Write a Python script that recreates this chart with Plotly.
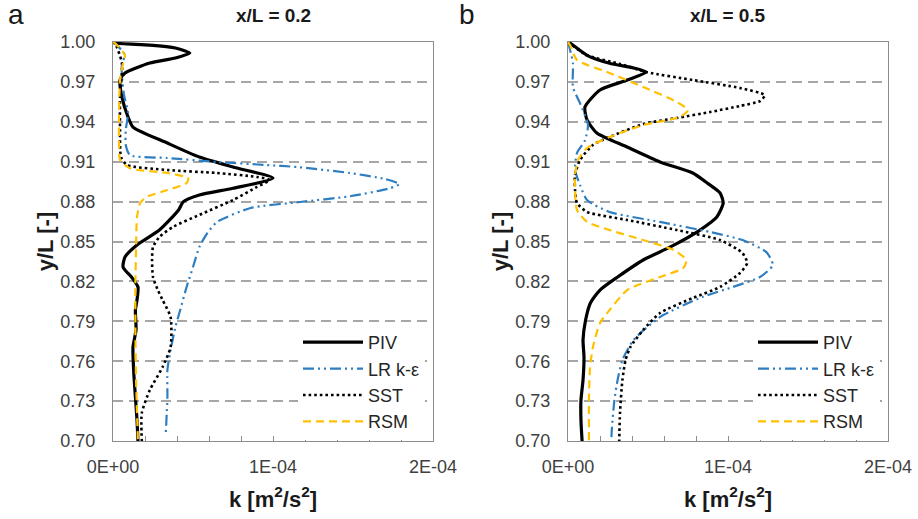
import plotly.graph_objects as go

# ---------------- data (k in m2/s2, y/L) ----------------
series_names = ["PIV", "LR k-ε", "SST", "RSM"]

# x/L = 0.2
a_piv_y = [1.000, 0.9992, 0.9977, 0.9955, 0.9917, 0.988, 0.9842, 0.9767, 0.9714, 0.9586, 0.9436, 0.936, 0.924, 0.9135, 0.906, 0.8977, 0.890, 0.885, 0.880, 0.8737, 0.8586, 0.8474, 0.8383, 0.8308, 0.8226, 0.8158, 0.806, 0.7985, 0.7835, 0.7707, 0.7511, 0.7331, 0.7158, 0.700]
a_piv_k = [0.0, 1.2e-6, 2.3e-5, 3.9e-5, 4.8e-5, 3.9e-5, 2.3e-5, 7.5e-6, 4.4e-6, 5.6e-6, 9.4e-6, 1.25e-5, 3.4e-5, 5.4e-5, 7.5e-5, 1.0e-4, 7.5e-5, 5.4e-5, 4.4e-5, 4.1e-5, 2.9e-5, 1.5e-5, 7.5e-6, 6.3e-6, 1.2e-5, 1.56e-5, 1.5e-5, 1.4e-5, 1.44e-5, 1.25e-5, 1.3e-5, 1.4e-5, 1.5e-5, 1.56e-5]

a_lr_y = [1.000, 0.9992, 0.990, 0.984, 0.974, 0.960, 0.9466, 0.934, 0.9226, 0.915, 0.9128, 0.9098, 0.9075, 0.906, 0.9015, 0.897, 0.8932, 0.890, 0.884, 0.8797, 0.8752, 0.8647, 0.8564, 0.8459, 0.8308, 0.8158, 0.7985, 0.7857, 0.7684, 0.7534, 0.7331, 0.706]
a_lr_k = [0.0, 1.2e-6, 7.5e-6, 5.6e-6, 5.6e-6, 6.9e-6, 9.4e-6, 8.0e-6, 8.0e-6, 1.06e-5, 3.4e-5, 6.5e-5, 9.6e-5, 1.15e-4, 1.48e-4, 1.7e-4, 1.79e-4, 1.73e-4, 1.48e-4, 1.17e-4, 8.6e-5, 6.5e-5, 5.9e-5, 5.4e-5, 5.0e-5, 4.6e-5, 4.2e-5, 3.9e-5, 3.6e-5, 3.4e-5, 3.4e-5, 3.3e-5]

a_sst_y = [1.000, 0.9992, 0.984, 0.9586, 0.9338, 0.9135, 0.9075, 0.9038, 0.9015, 0.8985, 0.8962, 0.891, 0.8812, 0.870, 0.861, 0.8534, 0.8459, 0.836, 0.8233, 0.8135, 0.806, 0.7932, 0.7707, 0.7556, 0.7383, 0.721, 0.700]
a_sst_k = [0.0, 1.2e-6, 5.6e-6, 4.4e-6, 4.4e-6, 5.0e-6, 8.8e-6, 3.4e-5, 6.5e-5, 9.0e-5, 9.8e-5, 9.0e-5, 7.5e-5, 5.4e-5, 3.75e-5, 2.9e-5, 2.5e-5, 2.44e-5, 2.5e-5, 2.8e-5, 3.1e-5, 3.6e-5, 3.6e-5, 3.1e-5, 2.3e-5, 1.8e-5, 1.8e-5]

a_rsm_y = [1.000, 0.9992, 0.990, 0.984, 0.9714, 0.9466, 0.921, 0.9113, 0.905, 0.9015, 0.8977, 0.894, 0.8887, 0.8835, 0.879, 0.8684, 0.8436, 0.8188, 0.7835, 0.7459, 0.700]
a_rsm_k = [0.0, 1.2e-6, 7.5e-6, 6.3e-6, 4.4e-6, 3.8e-6, 3.8e-6, 4.4e-6, 1.06e-5, 3.4e-5, 4.7e-5, 4.6e-5, 3.4e-5, 2.1e-5, 1.7e-5, 1.5e-5, 1.44e-5, 1.4e-5, 1.4e-5, 1.44e-5, 1.56e-5]

# x/L = 0.5
b_piv_y = [1.000, 0.9992, 0.990, 0.984, 0.9805, 0.9774, 0.9714, 0.9639, 0.9511, 0.9414, 0.9316, 0.921, 0.9098, 0.9015, 0.894, 0.8865, 0.879, 0.8684, 0.8586, 0.8459, 0.8361, 0.8233, 0.8135, 0.8038, 0.791, 0.776, 0.7632, 0.7459, 0.7308, 0.7158, 0.700]
b_piv_k = [0.0, 1.3e-6, 1.19e-5, 2.6e-5, 4.1e-5, 4.9e-5, 3.7e-5, 2.0e-5, 1.06e-5, 1.19e-5, 1.8e-5, 3.7e-5, 5.75e-5, 7.8e-5, 8.7e-5, 9.5e-5, 9.7e-5, 9.3e-5, 8.25e-5, 6.4e-5, 4.7e-5, 3.1e-5, 2.0e-5, 1.4e-5, 1.1e-5, 9.4e-6, 1.0e-5, 9.4e-6, 8.1e-6, 8.1e-6, 8.8e-6]

b_lr_y = [1.000, 0.994, 0.984, 0.966, 0.954, 0.9376, 0.926, 0.9165, 0.9038, 0.8925, 0.8812, 0.8722, 0.8647, 0.8571, 0.8511, 0.842, 0.8323, 0.8233, 0.8158, 0.8083, 0.7932, 0.776, 0.7609, 0.7459, 0.7308, 0.7105, 0.700]
b_lr_k = [0.0, 1.3e-6, 3.1e-6, 3.1e-6, 7.5e-6, 1.25e-5, 1.06e-5, 5.6e-6, 4.4e-6, 7.5e-6, 1.19e-5, 2.6e-5, 5.75e-5, 8.9e-5, 1.09e-4, 1.24e-4, 1.28e-4, 1.2e-4, 1.03e-4, 8.4e-5, 5.75e-5, 4.1e-5, 3.4e-5, 3.1e-5, 2.9e-5, 2.75e-5, 2.7e-5]

b_sst_y = [1.000, 0.990, 0.9835, 0.9774, 0.9714, 0.9654, 0.960, 0.9556, 0.9519, 0.9474, 0.9429, 0.9383, 0.9286, 0.9226, 0.9113, 0.900, 0.8887, 0.879, 0.8722, 0.8662, 0.8586, 0.8511, 0.8414, 0.8338, 0.8263, 0.8158, 0.8075, 0.7962, 0.7835, 0.7707, 0.7609, 0.7459, 0.721, 0.700]
b_sst_k = [0.0, 1.19e-5, 3.25e-5, 4.9e-5, 7.8e-5, 1.075e-4, 1.23e-4, 1.2e-4, 1.075e-4, 8.9e-5, 6.8e-5, 4.7e-5, 2.6e-5, 1.56e-5, 7.5e-6, 4.4e-6, 4.4e-6, 5.6e-6, 1.19e-5, 3.7e-5, 6.8e-5, 9.5e-5, 1.09e-4, 1.12e-4, 1.075e-4, 9.5e-5, 7.8e-5, 5.75e-5, 4.7e-5, 3.9e-5, 3.6e-5, 3.4e-5, 3.25e-5, 3.2e-5]

b_rsm_y = [1.000, 0.9977, 0.9865, 0.9767, 0.9662, 0.9549, 0.9489, 0.9436, 0.9376, 0.9286, 0.9203, 0.9113, 0.900, 0.8887, 0.8737, 0.8647, 0.8586, 0.8511, 0.8436, 0.8361, 0.830, 0.8233, 0.8135, 0.7985, 0.7887, 0.7707, 0.7556, 0.7331, 0.700]
b_rsm_k = [0.0, 1.3e-6, 5.6e-6, 2.6e-5, 4.7e-5, 6.8e-5, 7.5e-5, 7.0e-5, 4.7e-5, 2.6e-5, 1.19e-5, 6.3e-6, 4.4e-6, 4.4e-6, 5.6e-6, 1.19e-5, 2.6e-5, 4.7e-5, 6.6e-5, 7.4e-5, 7.2e-5, 5.75e-5, 3.7e-5, 2.6e-5, 2.0e-5, 1.56e-5, 1.38e-5, 1.31e-5, 1.31e-5]

y_ticks = [0.70, 0.73, 0.76, 0.79, 0.82, 0.85, 0.88, 0.91, 0.94, 0.97, 1.00]
x_tickvals = [0.0, 1e-4, 2e-4]
x_ticktext = ["0E+00", "1E-04", "2E-04"]
panel_titles = ["x/L = 0.2", "x/L = 0.5"]
panel_letters = ["a", "b"]

# ---------------- styles ----------------
FONT = "Liberation Sans, Arial, sans-serif"
styles = [
    dict(color="black", width=3.2, dash="solid"),
    dict(color="#2E7EC1", width=2.2, dash="11px,4px,2px,4px,2px,4px"),
    dict(color="black", width=2.6, dash="2.6px,3px"),
    dict(color="#FFC000", width=2.2, dash="8px,5px"),
]

fig = go.Figure()
panels = [
    ([(a_piv_k, a_piv_y), (a_lr_k, a_lr_y), (a_sst_k, a_sst_y), (a_rsm_k, a_rsm_y)], "x", "y", "legend"),
    ([(b_piv_k, b_piv_y), (b_lr_k, b_lr_y), (b_sst_k, b_sst_y), (b_rsm_k, b_rsm_y)], "x2", "y2", "legend2"),
]
for data, xa, ya, lg in panels:
    for name, (k, y), st in zip(series_names, data, styles):
        fig.add_trace(go.Scatter(
            x=k, y=y, name=name, mode="lines", xaxis=xa, yaxis=ya, legend=lg,
            line=dict(color=st["color"], width=st["width"], dash=st["dash"],
                      shape="spline", smoothing=0.6),
        ))

LINE_GRAY = "#8C8C8C"
GRID_GRAY = "#A6A6A6"
TICK_COLOR = "#404040"

def xaxis(domain, anchor):
    return dict(
        domain=domain, anchor=anchor, range=[0, 2e-4], automargin=False,
        tickvals=x_tickvals, ticktext=x_ticktext,
        ticks="inside", ticklen=5, tickcolor=LINE_GRAY,
        minor=dict(dtick=2e-5, tick0=0, ticks="inside", ticklen=5, tickcolor=LINE_GRAY, showgrid=False),
        showgrid=False, zeroline=False,
        showline=True, mirror=True, linecolor=LINE_GRAY, linewidth=1.2,
        tickfont=dict(family=FONT, size=18, color=TICK_COLOR),
        ticklabelstandoff=9,
        title=dict(text="k [m<sup>2</sup>/s<sup>2</sup>]", standoff=15,
                   font=dict(family=FONT, size=22, color="#1a1a1a", weight="bold")),
    )

def yaxis(domain, anchor):
    return dict(
        domain=domain, anchor=anchor, range=[0.70, 1.00], automargin=False,
        tickvals=y_ticks, tickformat=".2f", ticks="",
        showgrid=True, gridcolor=GRID_GRAY, gridwidth=1.5, griddash="10px,6px",
        zeroline=False,
        showline=True, mirror=True, linecolor=LINE_GRAY, linewidth=1.2,
        tickfont=dict(family=FONT, size=18, color=TICK_COLOR),
        ticklabelstandoff=13,
        title=dict(text="y/L [-]", standoff=0,
                   font=dict(family=FONT, size=22, color="#1a1a1a", weight="bold")),
    )

ydom = [1 - 441 / 519, 1 - 42 / 519]
xdom1 = [113 / 918, 433 / 918]
xdom2 = [568 / 918, 888 / 918]

legend_common = dict(
    bgcolor="white", borderwidth=0,
    font=dict(family=FONT, size=18, color="#262626"),
    xanchor="left", yanchor="top", itemwidth=60, tracegroupgap=0,
)

fig.update_layout(
    width=918, height=519,
    margin=dict(l=0, r=0, t=0, b=0, autoexpand=False),
    paper_bgcolor="white", plot_bgcolor="white",
    showlegend=True,
    xaxis=xaxis(xdom1, "y"), yaxis=yaxis(ydom, "x"),
    xaxis2=xaxis(xdom2, "y2"), yaxis2=yaxis(ydom, "x2"),
    legend=dict(x=298 / 918, y=1 - 324 / 519, **legend_common),
    legend2=dict(x=753 / 918, y=1 - 324 / 519, **legend_common),
)

for cx, title in zip([273, 728], panel_titles):
    fig.add_annotation(text=title, x=cx / 918, y=1 - 15 / 519, xref="paper", yref="paper",
                       showarrow=False, xanchor="center", yanchor="middle",
                       font=dict(family=FONT, size=19, color="#1a1a1a", weight="bold"))
for cx, letter in zip([16, 467], panel_letters):
    fig.add_annotation(text=letter, x=cx / 918, y=1 - 14 / 519, xref="paper", yref="paper",
                       showarrow=False, xanchor="center", yanchor="middle",
                       font=dict(family=FONT, size=28, color="#1a1a1a"))

fig.write_html("out.html")
